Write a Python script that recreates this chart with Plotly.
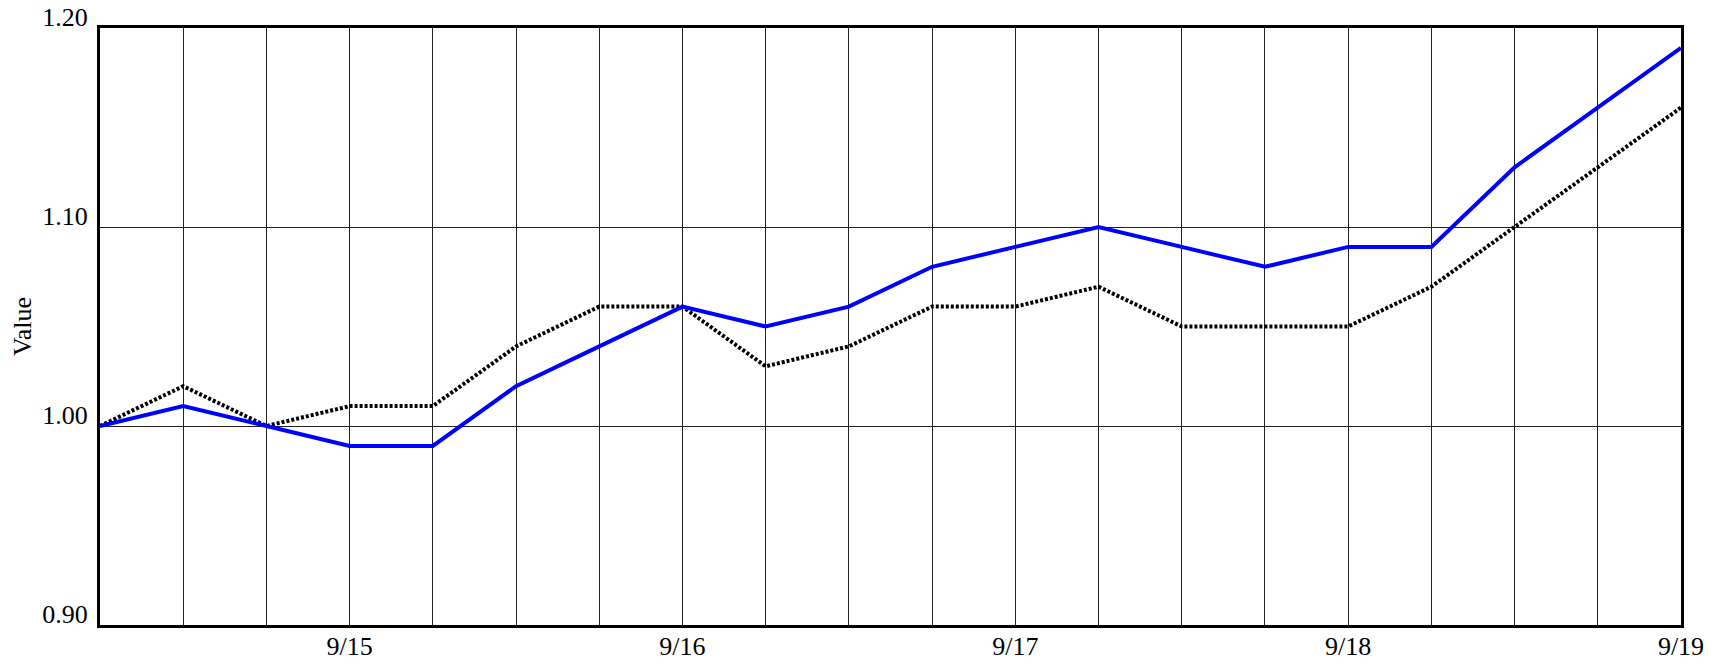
import plotly.graph_objects as go
import pandas as pd

# 6-hourly points from 9/14 06:00 to 9/19 00:00
times = pd.date_range("2020-09-14 06:00", "2020-09-19 00:00", freq="6h")
blue_vals = [1.00, 1.01, 1.00, 0.99, 0.99, 1.02, 1.04, 1.06, 1.05, 1.06,
             1.08, 1.09, 1.10, 1.09, 1.08, 1.09, 1.09, 1.13, 1.16, 1.19]
black_vals = [1.00, 1.02, 1.00, 1.01, 1.01, 1.04, 1.06, 1.06, 1.03, 1.04,
              1.06, 1.06, 1.07, 1.05, 1.05, 1.05, 1.07, 1.10, 1.13, 1.16]
y_ticks = [0.90, 1.00, 1.10, 1.20]

font = "Liberation Serif, Times New Roman, serif"

fig = go.Figure()
fig.add_trace(go.Scatter(x=times, y=black_vals, mode="lines",
                         line=dict(color="black", width=4, dash="3px,2px")))
fig.add_trace(go.Scatter(x=times, y=blue_vals, mode="lines",
                         line=dict(color="#0000ff", width=4)))

# page body adds a small offset, margins account for it
fig.update_layout(
    width=1717, height=664,
    margin=dict(l=92, r=44, t=20, b=47),
    paper_bgcolor="white", plot_bgcolor="white",
    showlegend=False,
    font=dict(family=font, size=26, color="black"),
)
fig.update_xaxes(
    range=[times[0], times[-1]], automargin=False,
    tickformat="%-m/%-d", dtick=86400000, tick0="2020-09-15",
    showgrid=True, gridcolor="#222", gridwidth=1,
    minor=dict(dtick=21600000, tick0="2020-09-15", showgrid=True,
               gridcolor="#222", gridwidth=1),
    showline=True, linecolor="black", linewidth=3, mirror=True,
    ticks="", ticklabelstandoff=-4,
)
fig.update_yaxes(
    range=[0.9, 1.2], tickvals=y_ticks, tickformat=".2f", automargin=False,
    showgrid=True, gridcolor="#222", gridwidth=1, zeroline=False,
    showline=True, linecolor="black", linewidth=3, mirror=True,
    ticks="", ticklabelshift=-11, ticklabeloverflow="allow",
    ticklabelstandoff=4,
    title=dict(text="Value", font=dict(size=26), standoff=18),
)

fig.write_html("out.html")
